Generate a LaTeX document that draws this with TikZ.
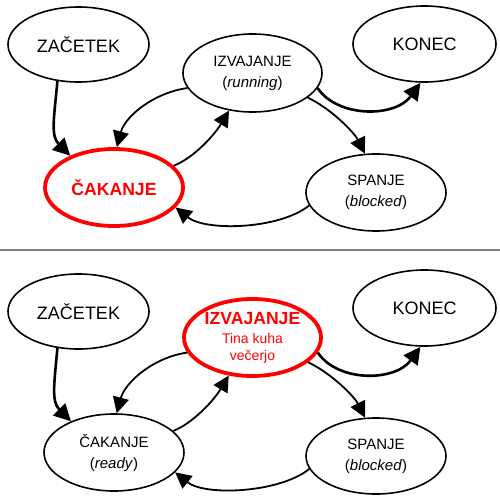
\documentclass[tikz,border=0pt]{standalone}
\usepackage{fontspec}
\setmainfont{Liberation Sans}
\usetikzlibrary{shapes.geometric,arrows.meta}
\begin{document}
\begin{tikzpicture}[x=1pt,y=-1pt,
  st/.style={ellipse, draw, line width=1.6pt, inner sep=0pt, align=center,
    font=\fontsize{15}{21}\selectfont, minimum width=140pt, minimum height=77pt},
  big/.style={font=\fontsize{18}{20}\selectfont},
  act/.style={draw=red, line width=3.8pt, text=red, minimum width=138pt},
  ar/.style={line width=1.8pt, -{Triangle[length=16pt,width=16pt]}},
  tar/.style={line width=2.6pt, -{Triangle[length=17pt,width=17pt]}},
  sep/.style={draw=gray, line width=2pt}
]
\useasboundingbox (0,0) rectangle (500,500);
% separator
\coordinate (l) at (0,250);
\coordinate (r) at (500,250);
\draw[sep] (l) -- (r);

% top panel
\node[st,big,minimum width=141pt,minimum height=75pt] (z1) at (78.5,44.5) {ZAČETEK};
\node[st,minimum width=139pt,minimum height=78pt] (i1) at (252.5,73) {IZVAJANJE\\(\textit{running})};
\node[st,big,minimum width=143pt,minimum height=76pt] (k1) at (424.5,44) {KONEC};
\node[st,act] (c1) at (114,187.5) {\fontsize{17.6}{20}\selectfont\bfseries ČAKANJE};
\node[st] (s1) at (376,192.5) {SPANJE\\(\textit{blocked})};

\draw[tar] (z1.240) .. controls +(-3,35) and +(-20,-20) .. (c1.144);
\draw[ar] (i1.193) .. controls +(-35,5) and +(8,-30) .. (c1.86);
\draw[ar] (c1.20) .. controls +(20,-8) and +(-15,25) .. (i1.238);
\draw[tar] (i1.347) .. controls +(20,30) and +(-25,35) .. (k1.264);
\draw[ar] (i1.336) .. controls +(25,12) and +(-10,-20) .. (s1.106);
\draw[ar] (s1.191) .. controls +(-30,24) and +(30,24) .. (c1.342);

% bottom panel
\node[st,big,minimum width=141pt,minimum height=75pt] (z2) at (78.5,311.5) {ZAČETEK};
\node[st,act,minimum width=137pt,minimum height=77pt,font=\fontsize{14}{17}\selectfont] (i2) at (252.5,337.5)
  {{\fontsize{17.6}{18}\selectfont\bfseries IZVAJANJE}\\[2pt]Tina kuha\\večerjo};
\node[st,big,minimum width=143pt,minimum height=76pt] (k2) at (424.5,308) {KONEC};
\node[st] (c2) at (114,452.5) {ČAKANJE\\(\textit{ready})};
\node[st,minimum height=76pt] (s2) at (376,456) {SPANJE\\(\textit{blocked})};

\draw[tar] (z2.240) .. controls +(-3,35) and +(-20,-20) .. (c2.144);
\draw[ar] (i2.193) .. controls +(-35,5) and +(8,-30) .. (c2.86);
\draw[ar] (c2.20) .. controls +(20,-8) and +(-15,25) .. (i2.238);
\draw[tar] (i2.347) .. controls +(20,30) and +(-25,35) .. (k2.264);
\draw[ar] (i2.336) .. controls +(25,12) and +(-10,-20) .. (s2.106);
\draw[ar] (s2.191) .. controls +(-30,24) and +(30,24) .. (c2.342);
\end{tikzpicture}
\end{document}
